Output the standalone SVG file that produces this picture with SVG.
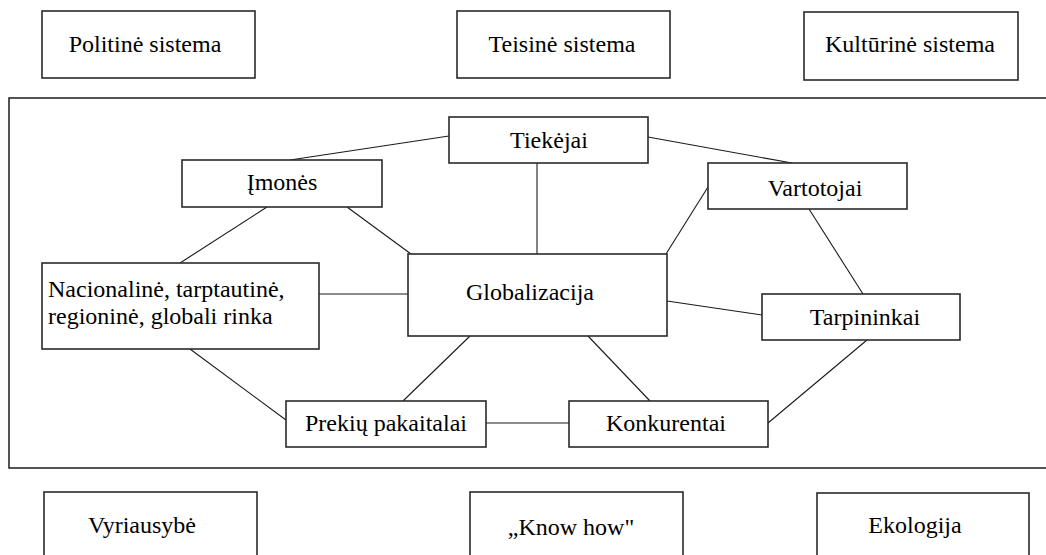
<svg xmlns="http://www.w3.org/2000/svg" width="1046" height="555" viewBox="0 0 1046 555">
<style>
.box{fill:#fff;stroke:#2a2a2a;stroke-width:1.6}
.frame{fill:none;stroke:#2a2a2a;stroke-width:1.6}
text{font-family:'Liberation Serif','Times New Roman',serif;font-size:24px;fill:#000}
.t{text-anchor:middle}
.c line{stroke:#1a1a1a;stroke-width:1.1}
</style>
<rect width="1046" height="555" fill="#fff"/>
<rect id="frame" class="frame" x="9" y="98" width="1045" height="370"/>
<g class="c" id="connectors">
<line x1="449" y1="136" x2="290" y2="160"/>
<line x1="648" y1="137" x2="792" y2="163"/>
<line x1="537" y1="163" x2="537" y2="254"/>
<line x1="267" y1="207" x2="180" y2="263"/>
<line x1="347" y1="207" x2="411" y2="254"/>
<line x1="319" y1="294" x2="408" y2="294"/>
<line x1="708" y1="187" x2="666" y2="254"/>
<line x1="809" y1="209" x2="863" y2="294"/>
<line x1="667" y1="301" x2="762" y2="315"/>
<line x1="588" y1="336" x2="650" y2="401"/>
<line x1="470" y1="336" x2="403" y2="401"/>
<line x1="190" y1="349" x2="286" y2="420"/>
<line x1="486" y1="423" x2="569" y2="423"/>
<line x1="867" y1="340" x2="768" y2="423"/>
</g>
<g id="politine"><rect class="box" x="42" y="11" width="213" height="67"/><text class="t" x="145" y="52">Politinė sistema</text></g>
<g id="teisine"><rect class="box" x="457" y="11" width="213" height="67"/><text class="t" x="562" y="52">Teisinė sistema</text></g>
<g id="kulturine"><rect class="box" x="804" y="12" width="214" height="68"/><text class="t" x="910" y="52">Kultūrinė sistema</text></g>
<g id="tiekejai"><rect class="box" x="449" y="117" width="199" height="46"/><text class="t" x="549" y="148">Tiekėjai</text></g>
<g id="imones"><rect class="box" x="182" y="160" width="200" height="47"/><text class="t" x="282" y="190">Įmonės</text></g>
<g id="vartotojai"><rect class="box" x="708" y="163" width="199" height="46"/><text class="t" x="815" y="196">Vartotojai</text></g>
<g id="rinka"><rect class="box" x="42" y="263" width="277" height="86"/><text x="48" y="297">Nacionalinė, tarptautinė,</text><text x="48" y="324">regioninė, globali rinka</text></g>
<g id="globalizacija"><rect class="box" x="408" y="254" width="259" height="82"/><text class="t" x="530" y="300">Globalizacija</text></g>
<g id="tarpininkai"><rect class="box" x="762" y="294" width="198" height="46"/><text class="t" x="865" y="325">Tarpininkai</text></g>
<g id="prekiu"><rect class="box" x="286" y="401" width="200" height="46"/><text class="t" x="386" y="431">Prekių pakaitalai</text></g>
<g id="konkurentai"><rect class="box" x="569" y="401" width="199" height="46"/><text class="t" x="666" y="431">Konkurentai</text></g>
<g id="vyriausybe"><rect class="box" x="44" y="492" width="213" height="80"/><text class="t" x="142" y="533">Vyriausybė</text></g>
<g id="knowhow"><rect class="box" x="470" y="492" width="213" height="80"/><text class="t" x="571" y="535">„Know how"</text></g>
<g id="ekologija"><rect class="box" x="817" y="493" width="212" height="80"/><text class="t" x="915" y="533">Ekologija</text></g>
</svg>
